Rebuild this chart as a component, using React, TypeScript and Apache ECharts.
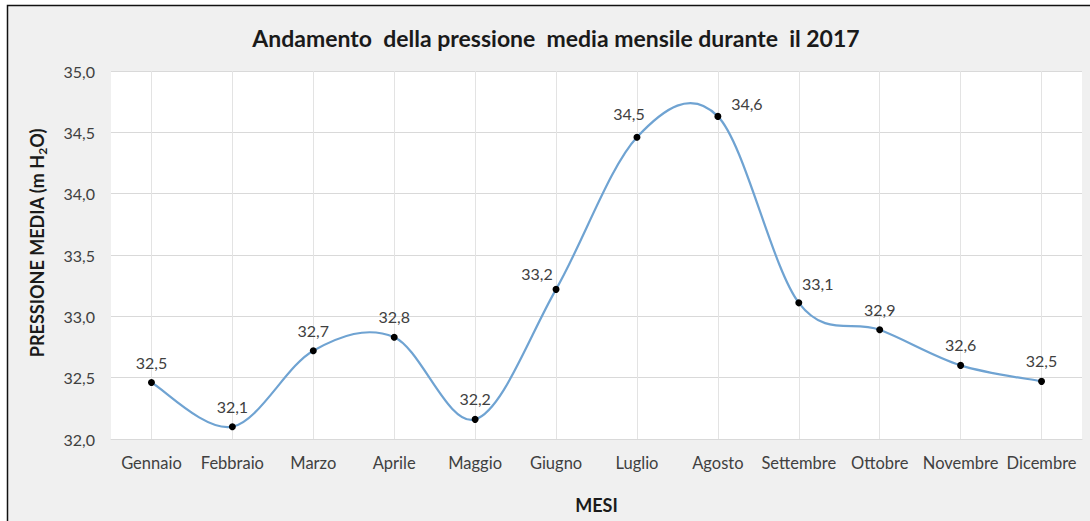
import React, { useEffect, useRef } from "react";
import * as echarts from "echarts";

const months = ["Gennaio", "Febbraio", "Marzo", "Aprile", "Maggio", "Giugno", "Luglio", "Agosto", "Settembre", "Ottobre", "Novembre", "Dicembre"];
const pressure = [32.46, 32.1, 32.72, 32.83, 32.16, 33.22, 34.46, 34.63, 33.11, 32.89, 32.6, 32.47];
const yTicks = { min: 32, max: 35, interval: 0.5 };
const titleText = "Andamento  della pressione  media mensile durante  il 2017";
const xName = "MESI";

// label nudges (style only), index -> [dx, dy]
const labelNudges: Record<number, [number, number]> = {
  5: [-19, 5],
  6: [-8, -3],
  7: [29, 8],
  8: [19, 1],
};

const FONT = "Lato, 'Open Sans', sans-serif";
const fmt = (v: number) => v.toFixed(1).replace(".", ",");

export default function App() {
  const ref = useRef<HTMLDivElement>(null);
  useEffect(() => {
    if (!ref.current) return;
    const chart = echarts.init(ref.current, undefined, { renderer: "svg" });
    const data = pressure.map((v, i) => {
      const n = labelNudges[i];
      return n ? { value: v, label: { offset: n } } : { value: v };
    });
    const curveData = pressure.map((v, i) => [i, v]);
    chart.setOption({
      animation: false,
      backgroundColor: "#ffffff",
      textStyle: { fontFamily: FONT },
      graphic: [
        {
          type: "rect",
          z: -100,
          shape: { x: 7.5, y: 5.5, width: 1100, height: 530 },
          style: { fill: "#f0f0f0", stroke: "#111", lineWidth: 1.5 },
          silent: true,
        },
      ],
      title: {
        text: titleText,
        left: 551,
        top: 21,
        textAlign: "center",
        textStyle: { fontFamily: FONT, fontSize: 23, fontWeight: "bold", color: "#1a1a1a" },
      },
      grid: {
        left: 111,
        right: 8,
        top: 71,
        bottom: 82,
        show: true,
        backgroundColor: "#ffffff",
        borderWidth: 0,
      },
      xAxis: {
        type: "category",
        data: months,
        boundaryGap: true,
        name: xName,
        nameLocation: "middle",
        nameGap: 57,
        nameTextStyle: { fontFamily: FONT, fontSize: 18, fontWeight: "bold", color: "#1a1a1a" },
        axisLine: { show: true, lineStyle: { color: "#d9d9d9", width: 1 } },
        axisTick: { show: false, alignWithLabel: true },
        axisLabel: { color: "#404040", fontSize: 16.5, margin: 15, interval: 0, fontFamily: FONT },
        splitLine: { show: true, alignWithLabel: true, lineStyle: { color: "#e3e3e3", width: 1 } },
      },
      yAxis: {
        type: "value",
        min: yTicks.min,
        max: yTicks.max,
        interval: yTicks.interval,
        name: "{a|PRESSIONE MEDIA (m H}{b|2}{a|O)}",
        nameLocation: "middle",
        nameRotate: 90,
        nameGap: 63,
        nameTextStyle: {
          padding: [0, 0, 0, 24],
          rich: {
            a: { fontFamily: FONT, fontSize: 18, fontWeight: "bold", color: "#1a1a1a", lineHeight: 22 },
            b: { fontFamily: FONT, fontSize: 12, fontWeight: "bold", color: "#1a1a1a", lineHeight: 22, verticalAlign: "bottom", padding: [9, 0, 0, 0] },
          },
        },
        axisLine: { show: false },
        axisTick: { show: false },
        axisLabel: { color: "#404040", fontSize: 16, margin: 16, formatter: (v: number) => fmt(v), fontFamily: FONT },
        splitLine: { show: true, lineStyle: { color: "#d9d9d9", width: 1 } },
      },
      series: [
        {
          type: "custom",
          z: 1,
          silent: true,
          data: curveData,
          encode: { x: 0, y: 1 },
          renderItem: (params: any, api: any) => {
            if (params.dataIndex !== 0) return null;
            const pts = pressure.map((v, i) => api.coord([i, v]));
            let d = `M${pts[0][0]},${pts[0][1]}`;
            for (let i = 0; i < pts.length - 1; i++) {
              const p0 = pts[i - 1] || pts[i];
              const p1 = pts[i];
              const p2 = pts[i + 1];
              const p3 = pts[i + 2] || pts[i + 1];
              const c1x = p1[0] + (p2[0] - p0[0]) / 6;
              const c1y = p1[1] + (p2[1] - p0[1]) / 6;
              const c2x = p2[0] - (p3[0] - p1[0]) / 6;
              const c2y = p2[1] - (p3[1] - p1[1]) / 6;
              d += ` C${c1x},${c1y} ${c2x},${c2y} ${p2[0]},${p2[1]}`;
            }
            return {
              type: "path",
              shape: { pathData: d },
              style: { fill: "none", stroke: "#6fa3d2", lineWidth: 2.2 },
            };
          },
        },
        {
          type: "line",
          z: 2,
          data,
          symbol: "circle",
          symbolSize: 7,
          itemStyle: { color: "#000000" },
          lineStyle: { width: 0, opacity: 0 },
          label: {
            show: true,
            position: "top",
            distance: 9,
            color: "#404040",
            fontSize: 16,
            fontFamily: FONT,
            formatter: (p: any) => fmt(p.value),
          },
        },
      ],
    });
    return () => chart.dispose();
  }, []);
  return <div ref={ref} style={{ position: "fixed", left: 0, top: 0, width: 1090, height: 521 }} />;
}
